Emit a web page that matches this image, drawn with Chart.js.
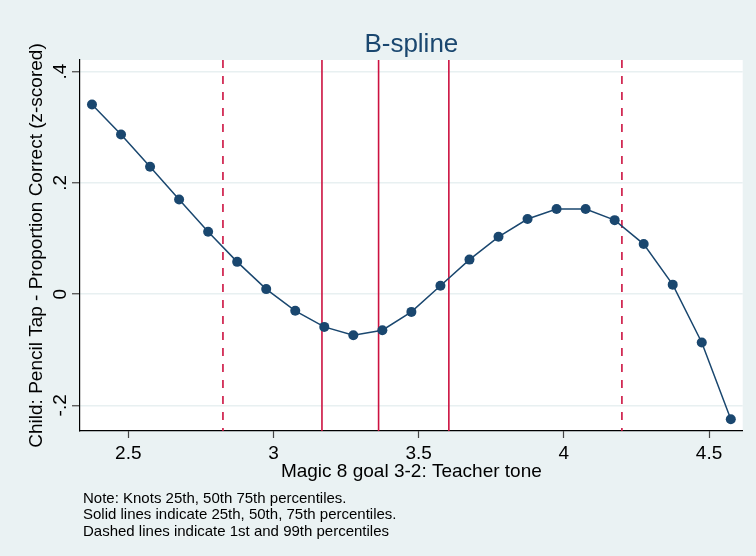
<!DOCTYPE html>
<html>
<head>
<meta charset="utf-8">
<script src="https://cdn.jsdelivr.net/npm/chart.js@4.4.0/dist/chart.umd.min.js"></script>
<style>
  html, body { margin: 0; padding: 0; background: #EAF2F3; }
  #wrap { width: 756px; height: 556px; }
</style>
</head>
<body>
<div id="wrap"><canvas id="c" width="756" height="556"></canvas></div>
<script>
// Predicted child outcome across teacher tone (B-spline fit)
const teacherTone = [2.375, 2.475, 2.575, 2.675, 2.775, 2.875, 2.975, 3.075, 3.175, 3.275, 3.375, 3.475,
                     3.575, 3.675, 3.775, 3.875, 3.975, 4.075, 4.175, 4.275, 4.375, 4.475, 4.575];
const pencilTap = [0.341, 0.287, 0.229, 0.170, 0.112, 0.058, 0.009, -0.030, -0.059, -0.074, -0.065, -0.032,
                   0.015, 0.062, 0.103, 0.135, 0.153, 0.153, 0.133, 0.090, 0.017, -0.087, -0.225];

// Knots (25th, 50th, 75th percentiles) and tails (1st, 99th percentiles)
const knotValues = [3.167, 3.362, 3.604];
const tailValues = [2.826, 4.200];

const xTickValues = [2.5, 3, 3.5, 4, 4.5];
const xTickLabels = ['2.5', '3', '3.5', '4', '4.5'];
const yTickValues = [-0.2, 0, 0.2, 0.4];
const yTickLabels = ['-.2', '0', '.2', '.4'];

const xRange = [2.3337, 4.616];
const yRange = [-0.2462, 0.421];

const chartTitle = 'B-spline';
const xTitle = 'Magic 8 goal 3-2: Teacher tone';
const yTitle = 'Child: Pencil Tap - Proportion Correct (z-scored)';
const noteLines = [
  'Note: Knots 25th, 50th 75th percentiles.',
  'Solid lines indicate 25th, 50th, 75th percentiles.',
  'Dashed lines indicate 1st and 99th percentiles'
];

const NAVY = '#1A476F';
const RED = '#CC1140';
const BG = '#EAF2F3';
const FONT = "'Liberation Sans', Arial, sans-serif";

Chart.defaults.font.family = FONT;

const decor = {
  id: 'decor',
  beforeDraw(chart) {
    const { ctx, chartArea: a } = chart;
    ctx.save();
    ctx.fillStyle = BG;
    ctx.fillRect(0, 0, chart.width, chart.height);
    ctx.fillStyle = '#ffffff';
    ctx.fillRect(a.left, a.top, a.right - a.left, a.bottom - a.top);
    ctx.restore();
  },
  beforeDatasetsDraw(chart) {
    const { ctx, chartArea: a, scales: { x } } = chart;
    ctx.save();
    ctx.strokeStyle = RED;
    ctx.lineWidth = 1.6;
    const drawAt = (v, dash) => {
      const px = x.getPixelForValue(v);
      ctx.setLineDash(dash);
      ctx.beginPath();
      ctx.moveTo(px, a.top);
      ctx.lineTo(px, a.bottom);
      ctx.stroke();
    };
    tailValues.forEach(v => drawAt(v, [8, 8]));
    knotValues.forEach(v => drawAt(v, []));
    ctx.restore();
  },
  afterDraw(chart) {
    const { ctx, chartArea: a } = chart;
    ctx.save();
    ctx.fillStyle = NAVY;
    ctx.font = '26px ' + FONT;
    ctx.textAlign = 'center';
    ctx.textBaseline = 'alphabetic';
    ctx.fillText(chartTitle, (a.left + a.right) / 2, 51.7);
    ctx.fillStyle = '#000000';
    ctx.font = '15px ' + FONT;
    ctx.textAlign = 'left';
    noteLines.forEach((t, i) => ctx.fillText(t, 83, 502.5 + i * 16.5));
    ctx.restore();
  }
};

new Chart(document.getElementById('c'), {
  type: 'line',
  data: {
    datasets: [{
      data: teacherTone.map((v, i) => ({ x: v, y: pencilTap[i] })),
      borderColor: NAVY,
      borderWidth: 1.5,
      backgroundColor: NAVY,
      pointBackgroundColor: NAVY,
      pointBorderWidth: 0,
      pointRadius: 5,
      tension: 0,
      fill: false
    }]
  },
  options: {
    responsive: false,
    animation: false,
    devicePixelRatio: 1,
    layout: { padding: { left: 0, right: 13.3, top: 60, bottom: 66 } },
    plugins: { legend: { display: false }, tooltip: { enabled: false } },
    scales: {
      x: {
        type: 'linear',
        min: xRange[0], max: xRange[1],
        afterBuildTicks: s => { s.ticks = xTickValues.map(v => ({ value: v })); },
        afterFit: s => { s.height = 59; },
        ticks: {
          callback: (v, i) => xTickLabels[i],
          padding: 4, autoSkip: false, maxRotation: 0,
          font: { size: 19 }, color: '#000'
        },
        grid: { drawOnChartArea: false, drawTicks: true, tickLength: 7, tickColor: '#444', tickWidth: 1.2 },
        border: { display: true, color: '#000', width: 1.2 },
        title: { display: true, text: xTitle, font: { size: 19 }, color: '#000', padding: { top: 0, bottom: 6.6 } }
      },
      y: {
        type: 'linear',
        min: yRange[0], max: yRange[1],
        afterBuildTicks: s => { s.ticks = yTickValues.map(v => ({ value: v })); },
        afterFit: s => { s.width = 80; },
        ticks: {
          callback: (v, i) => yTickLabels[i],
          minRotation: 90, maxRotation: 90, crossAlign: 'center', padding: 0, autoSkip: false,
          font: { size: 19 }, color: '#000'
        },
        grid: { color: '#E8F0F1', lineWidth: 1.5, drawTicks: true, tickLength: 8, tickColor: '#444', tickWidth: 1.2 },
        border: { display: true, color: '#000', width: 1.2 },
        title: { display: true, text: yTitle, font: { size: 19 }, color: '#000', padding: { top: 25.6, bottom: 0 } }
      }
    }
  },
  plugins: [decor]
});
</script>
</body>
</html>
